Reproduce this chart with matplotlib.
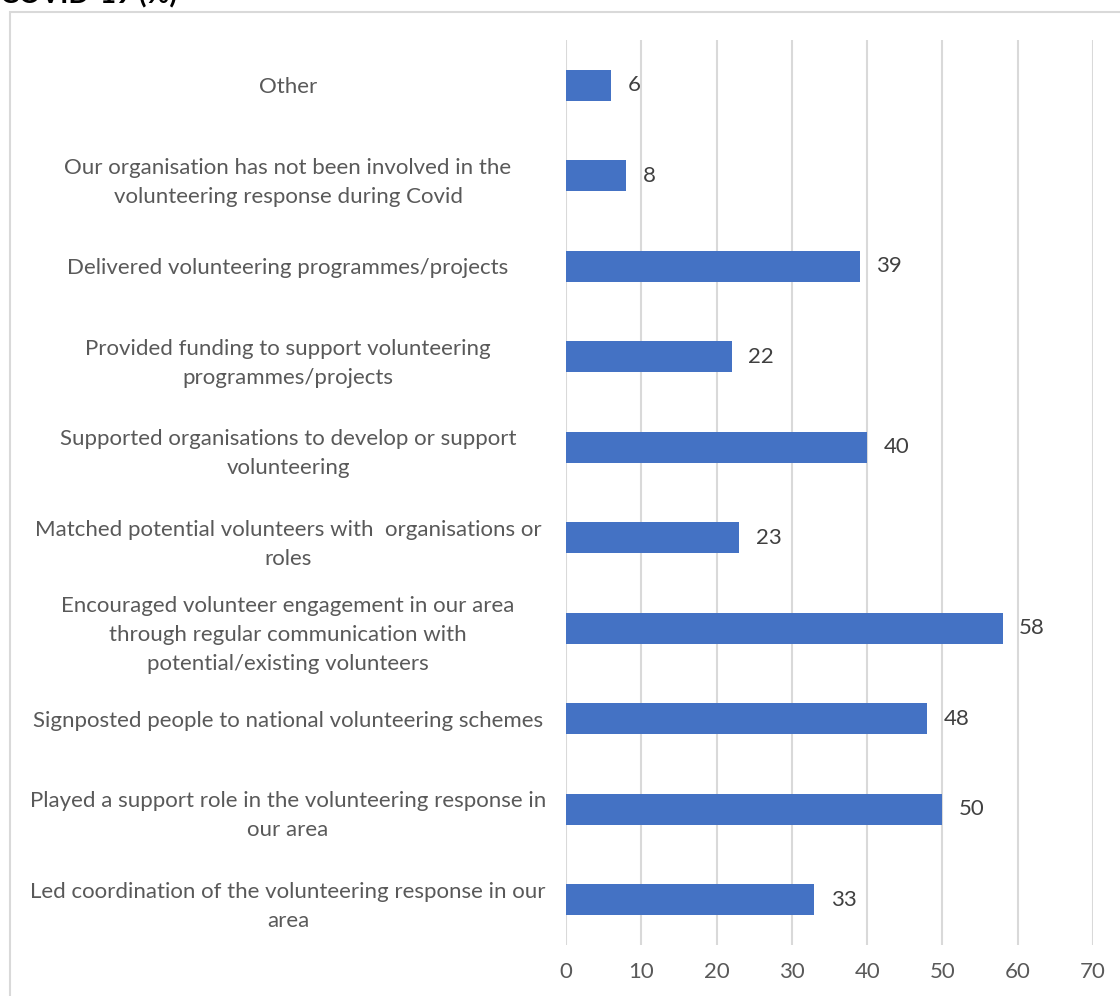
import matplotlib.pyplot as plt
from matplotlib.patches import Rectangle

# categorias de abajo hacia arriba (como en el grafico)
categorias = [
    "Led coordination of the volunteering response in our\narea",
    "Played a support role in the volunteering response in\nour area",
    "Signposted people to national volunteering schemes",
    "Encouraged volunteer engagement in our area\nthrough regular communication with\npotential/existing volunteers",
    "Matched potential volunteers with  organisations or\nroles",
    "Supported organisations to develop or support\nvolunteering",
    "Provided funding to support volunteering\nprogrammes/projects",
    "Delivered volunteering programmes/projects",
    "Our organisation has not been involved in the\nvolunteering response during Covid",
    "Other",
]
valores = [33, 50, 48, 58, 23, 40, 22, 39, 8, 6]
ticks_x = [0, 10, 20, 30, 40, 50, 60, 70]

plt.rcParams['font.family'] = ['Lato', 'DejaVu Sans']
gris_texto = '#595959'

fig = plt.figure(figsize=(11.2, 9.96), dpi=100)
ax = fig.add_axes([566 / 1120, 1 - 945 / 996, (1093 - 566) / 1120, (945 - 40) / 996])

pos = list(range(len(categorias)))
ax.barh(pos, valores, height=0.345, color='#4472C4', zorder=3)

for y, v in zip(pos, valores):
    ax.text(v + 2.2, y, str(v), va='center', ha='left', fontsize=16, color='#404040')

ax.set_xlim(0, 70)
ax.set_ylim(-0.5, len(categorias) - 0.5)
ax.set_xticks(ticks_x)
ax.set_yticks(pos)
ax.set_yticklabels(categorias, fontsize=16, color=gris_texto, ha='center',
                   multialignment='center', linespacing=1.56)
for lbl in ax.get_yticklabels():
    lbl.set_x(-0.5275)
ax.tick_params(axis='y', length=0, pad=0)
ax.tick_params(axis='x', length=0, pad=12, labelsize=16, labelcolor=gris_texto)
ax.grid(axis='x', color='#d9d9d9', linewidth=1.5, zorder=0)
for s in ax.spines.values():
    s.set_visible(False)

# marco del grafico y titulo cortado
fig.patches.append(Rectangle((10 / 1120, -0.1), 1.2, 1.1 - 12 / 996, transform=fig.transFigure,
                             fill=False, edgecolor='#d9d9d9', linewidth=1.5))
fig.text(0.0, 1 - 3 / 996, "COVID-19 (%)", fontsize=20, fontweight='bold', color='black',
         ha='left', va='baseline')

fig.savefig('out.png', dpi=100)
